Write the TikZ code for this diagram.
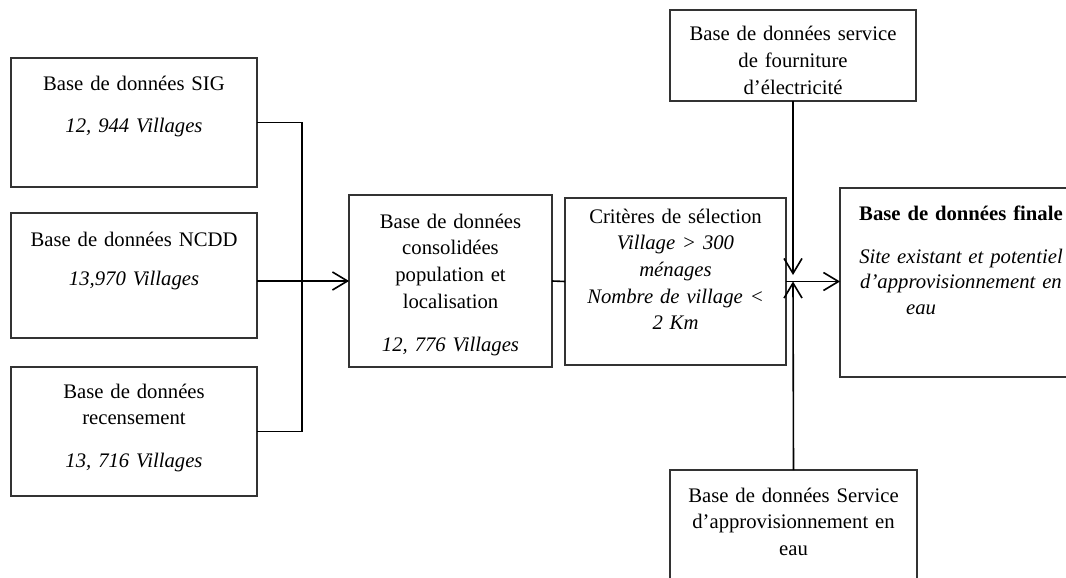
\documentclass[tikz,border=0pt]{standalone}
\usepackage{fontspec}
\setmainfont{Liberation Serif}
\usetikzlibrary{arrows.meta}

\begin{document}
\begin{tikzpicture}[x=1pt,y=-1pt,
  box/.style={draw=black!80, line width=1.1pt, rectangle, inner sep=0pt, outer sep=0pt},
  txt/.style={anchor=base, align=center, inner sep=0pt, text width=240pt,
              font=\fontsize{20.7}{26.7}\selectfont},
  conn/.style={draw=black, line width=1.6pt},
  arr/.style={-{Straight Barb[length=15pt,width=18pt]}}
]
\useasboundingbox (0,0) rectangle (1066,578);

% source databases (left column)
\node[box, minimum width=246pt, minimum height=129pt] (sig)  at (134,122.5) {};
\node[box, minimum width=246pt, minimum height=125pt] (ncdd) at (134,275.5) {};
\node[box, minimum width=246pt, minimum height=129pt] (rec)  at (134,431.5) {};

\node[txt] (sigT)  at (134,90)  {Base de données SIG\\[16pt]\textit{12, 944 Villages}};
\node[txt] (ncddT) at (134,246) {Base de données NCDD\\[13pt]\textit{13,970 Villages}};
\node[txt] (recT)  at (134,398) {Base de données\\ recensement\\[16pt]\textit{13, 716 Villages}};

% consolidated database and selection criteria
\node[box, minimum width=203pt, minimum height=172pt] (cons) at (450.5,281) {};
\node[txt] (consT) at (450.5,228) {Base de données\\ consolidées\\ population et\\ localisation\\[17pt]\textit{12, 776 Villages}};

\node[box, minimum width=221pt, minimum height=167pt] (crit) at (675.5,281.5) {};
\node[txt] (critT) at (675.5,223) {Critères de sélection\\ \itshape Village > 300\\ ménages\\ Nombre de village <\\ 2 Km};

% service databases (top and bottom)
\node[box, minimum width=246pt, minimum height=91pt] (elec) at (793,55.5) {};
\node[txt] (elecT) at (793,41) {Base de données service\\ de fourniture\\ d’électricité};

\node[box, minimum width=247pt, minimum height=140pt] (water) at (793.5,540) {};
\node[txt] (waterT) at (793.5,502) {Base de données Service\\ d’approvisionnement en\\ eau};

% final database (runs off the right edge)
\node[box, minimum width=250pt, minimum height=189pt] (fin) at (965,282.5) {};
\node[txt] (finT) at (961,220) {\textbf{Base de données finale}\\[17pt]\itshape Site existant et potentiel\\[-1.5pt] d’approvisionnement en\\[-1.5pt] eau\hspace*{80pt}\mbox{}};

% junctions
\coordinate (jl) at (302,281);
\coordinate (jr) at (elec.south |- crit.east);
\coordinate (tipd) at (793,275);

% connectors
\draw[conn] (sig.east) -| (jl);
\draw[conn] (rec.east) -| (jl);
\draw[conn, arr] (ncdd.east |- cons.west) -- (cons.west);
\draw[conn] (cons.east) -- (crit.west);
\draw[conn, arr] (crit.east) -- (crit.east -| fin.west);
\draw[conn, arr] (elec.south) -- (tipd);
\draw[conn, arr] (water.north) -- (jr);
\end{tikzpicture}
\end{document}
